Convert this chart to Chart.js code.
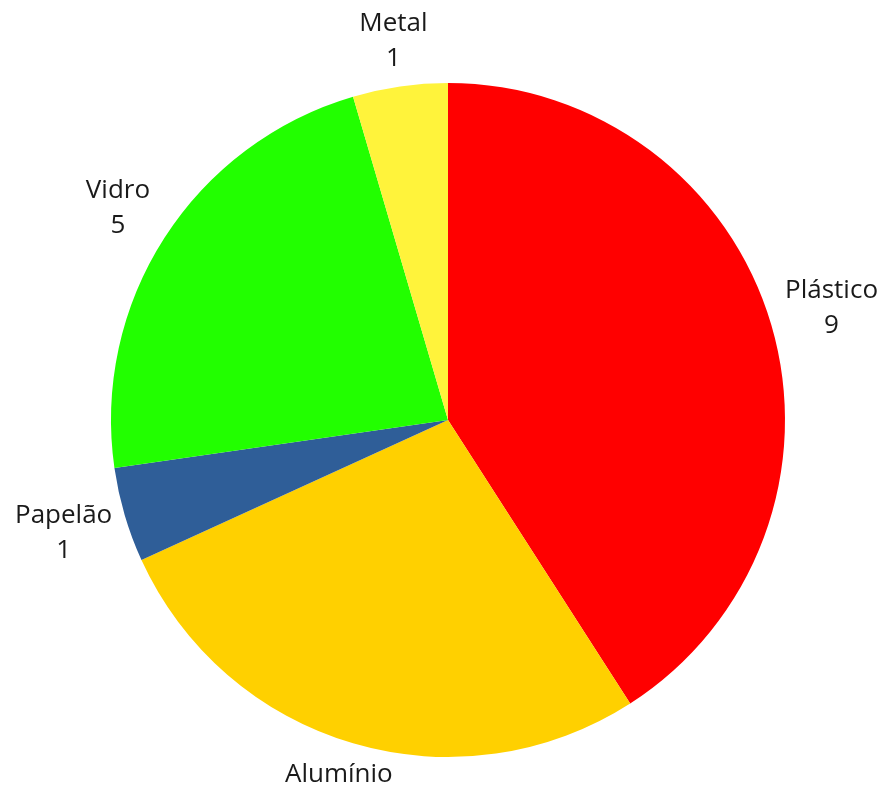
<!DOCTYPE html>
<html lang="pt">
<head>
    <meta charset="UTF-8">
    <title>Materiais</title>
    <script src="https://cdn.jsdelivr.net/npm/chart.js"></script>
    <style>
        body {
            margin: 0;
            padding: 0;
            background: #ffffff;
        }
        .chart-wrap {
            width: 882px;
            height: 790px;
            position: relative;
        }
    </style>
</head>
<body>
    <div class="chart-wrap">
        <canvas id="pieChart"></canvas>
    </div>

    <script>
        const labels = ['Plástico', 'Alumínio', 'Papelão', 'Vidro', 'Metal'];
        const counts = [9, 6, 1, 5, 1];
        const colors = ['#ff0000', '#ffd000', '#2f5e98', '#22ff00', '#fff33b'];

        // draws "name \n value" outside each slice
        const outsideLabels = {
            id: 'outsideLabels',
            afterDatasetsDraw(chart) {
                const ctx = chart.ctx;
                const meta = chart.getDatasetMeta(0);
                ctx.save();
                ctx.font = '26px "Open Sans", sans-serif';
                ctx.fillStyle = '#1a1a1a';
                ctx.textAlign = 'center';
                ctx.textBaseline = 'middle';
                meta.data.forEach((arc, i) => {
                    const p = arc.getProps(['x', 'y', 'startAngle', 'endAngle', 'outerRadius'], true);
                    const mid = (p.startAngle + p.endAngle) / 2;
                    const s = Math.abs(Math.cos(mid));
                    const hw = ctx.measureText(labels[i]).width / 2;
                    const r = p.outerRadius + 44 + 0.42 * hw * s;
                    const cx = p.x + Math.cos(mid) * r;
                    const cy = p.y + Math.sin(mid) * r;
                    ctx.fillText(labels[i], cx, cy - 17);
                    ctx.fillText(String(counts[i]), cx, cy + 18);
                });
                ctx.restore();
            }
        };

        new Chart(document.getElementById('pieChart'), {
            type: 'pie',
            data: {
                labels: labels,
                datasets: [{
                    data: counts,
                    backgroundColor: colors,
                    borderWidth: 0
                }]
            },
            options: {
                responsive: true,
                maintainAspectRatio: false,
                animation: false,
                layout: {
                    padding: { left: 111, right: 97, top: 83, bottom: 33 }
                },
                plugins: {
                    legend: { display: false },
                    tooltip: { enabled: false }
                }
            },
            plugins: [outsideLabels]
        });
    </script>
</body>
</html>
